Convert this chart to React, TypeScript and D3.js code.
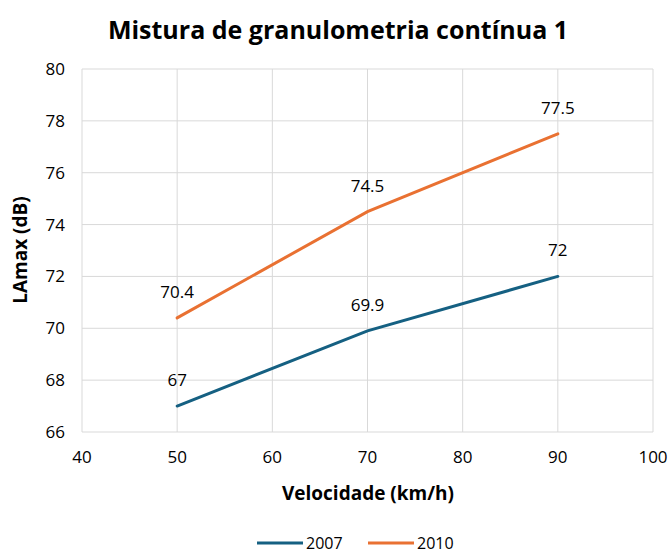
import * as React from 'react';
import * as d3 from 'd3';

const speeds = [50, 70, 90];
const series2007 = [67, 69.9, 72];
const series2010 = [70.4, 74.5, 77.5];
const seriesNames = ['2007', '2010'];
const colors = ['#156082', '#E97132'];
const xTicks = [40, 50, 60, 70, 80, 90, 100];
const yTicks = [66, 68, 70, 72, 74, 76, 78, 80];

const font = "'Open Sans', 'Liberation Sans', sans-serif";

export default function App() {
    const width = 672;
    const height = 555;
    const margin = { top: 69, right: 19, bottom: 123, left: 82 };

    const x = d3.scaleLinear().domain([40, 100]).range([margin.left, width - margin.right]);
    const y = d3.scaleLinear().domain([66, 80]).range([height - margin.bottom, margin.top]);

    const line = d3.line<number>()
        .x((d, i) => x(speeds[i]))
        .y((d) => y(d));

    const allSeries = [series2007, series2010];

    return (
        <svg width={width} height={height} style={{ position: 'absolute', left: 0, top: 0, fontFamily: font }}>
            <rect width={width} height={height} fill="#fff" />
            <text x={338} y={39} textAnchor="middle" fontSize={25} fontWeight="bold" fill="#000">
                Mistura de granulometria contínua 1
            </text>

            {xTicks.map((t) => (
                <line key={'gx' + t} x1={x(t)} x2={x(t)} y1={y(66)} y2={y(80)} stroke="#d9d9d9" strokeWidth={1} />
            ))}
            {yTicks.map((t) => (
                <line key={'gy' + t} x1={x(40)} x2={x(100)} y1={y(t)} y2={y(t)} stroke="#d9d9d9" strokeWidth={1} />
            ))}

            {yTicks.map((t) => (
                <text key={'ty' + t} x={x(40) - 17} y={y(t)} dy="0.35em" textAnchor="end" fontSize={17} fill="#000">
                    {t}
                </text>
            ))}
            {xTicks.map((t) => (
                <text key={'tx' + t} x={x(t)} y={y(66) + 31} textAnchor="middle" fontSize={17} fill="#000">
                    {t}
                </text>
            ))}

            {allSeries.map((s, k) => (
                <g key={'s' + k}>
                    <path d={line(s) || ''} fill="none" stroke={colors[k]} strokeWidth={3} strokeLinecap="round" />
                    {s.map((v, i) => (
                        <text key={i} x={x(speeds[i])} y={y(v) - 20} textAnchor="middle" fontSize={17} fill="#000">
                            {v}
                        </text>
                    ))}
                </g>
            ))}

            <text x={368} y={500} textAnchor="middle" fontSize={19} fontWeight="bold" fill="#000">
                Velocidade (km/h)
            </text>
            <text transform={`translate(27, ${250}) rotate(-90)`} textAnchor="middle" fontSize={19} fontWeight="bold" fill="#000">
                LAmax (dB)
            </text>

            {seriesNames.map((n, k) => {
                const lx = k === 0 ? 257 : 368;
                return (
                    <g key={'lg' + n}>
                        <line x1={lx} x2={lx + 46} y1={543} y2={543} stroke={colors[k]} strokeWidth={3} />
                        <text x={lx + 49} y={543} dy="0.35em" fontSize={16} fill="#000">{n}</text>
                    </g>
                );
            })}
        </svg>
    );
}
